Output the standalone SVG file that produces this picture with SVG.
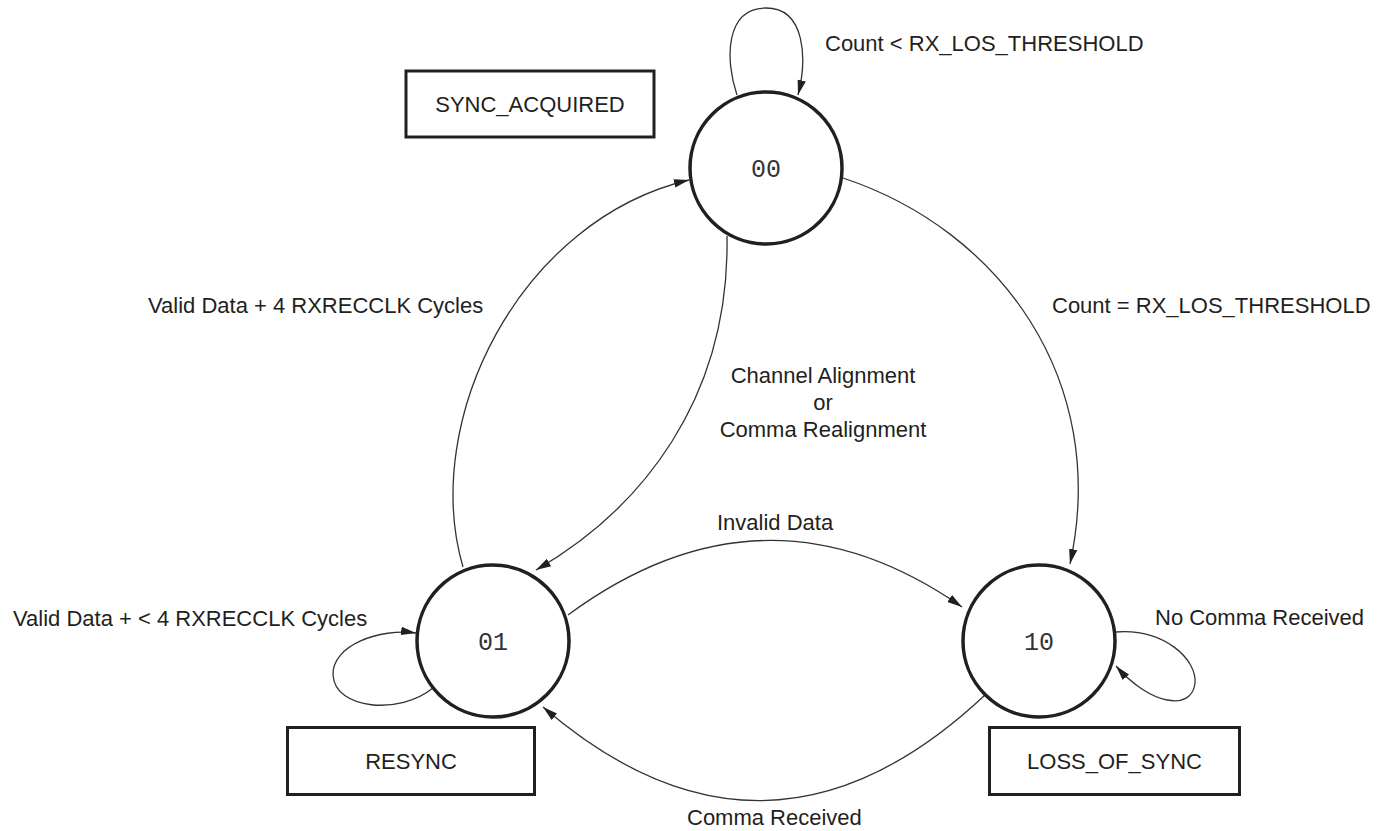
<svg xmlns="http://www.w3.org/2000/svg" width="1377" height="831" viewBox="0 0 1377 831">
<style>
.lbl{font-family:"Liberation Sans",Arial,sans-serif;font-size:22px;fill:#231f20}
.st{font-family:"Liberation Mono","Courier New",monospace;font-size:25px;fill:#333}
.state{fill:#fff;stroke:#231f20;stroke-width:3.5}
.box{fill:#fff;stroke:#231f20;stroke-width:3}
.edge{fill:none;stroke:#333;stroke-width:1.3;marker-end:url(#arr)}
</style>
<defs>
<marker id="arr" markerUnits="userSpaceOnUse" markerWidth="16" markerHeight="10" refX="15" refY="5" orient="auto">
<path d="M0,0.8 L15,5 L0,9.2 Z" fill="#231f20"/>
</marker>
</defs>
<rect width="1377" height="831" fill="#fff"/>
<g id="connectors">
<path class="edge" d="M737 95 C725 60,725 8,766 8 C806 8,807 60,798 95"/>
<path class="edge" d="M843 178 C1000 230,1110 380,1070 564"/>
<path class="edge" d="M463 567 C420 420,520 220,689 180"/>
<path class="edge" d="M727 236 C730 400,640 510,536 570"/>
<path class="edge" d="M568 615 Q765 470,962 607"/>
<path class="edge" d="M985 695 Q767 900,543 707"/>
<path class="edge" d="M433 688 C400 715,335 710,333 675 C332 645,380 628,416 633"/>
<path class="edge" d="M1115 632 C1165 628,1197 660,1195 683 C1192 712,1150 705,1116 666"/>
</g>
<g id="state00">
<circle class="state" cx="766" cy="168" r="76"/>
<text class="st" x="766" y="177" text-anchor="middle">00</text>
</g>
<g id="state01">
<circle class="state" cx="493" cy="641" r="76"/>
<text class="st" x="493" y="650" text-anchor="middle">01</text>
</g>
<g id="state10">
<circle class="state" cx="1039" cy="641" r="76"/>
<text class="st" x="1039" y="650" text-anchor="middle">10</text>
</g>
<g id="box-sync-acquired">
<rect class="box" x="406" y="71" width="248" height="66"/>
<text class="lbl" x="530" y="112" text-anchor="middle">SYNC_ACQUIRED</text>
</g>
<g id="box-resync">
<rect class="box" x="287.5" y="727.5" width="247" height="67"/>
<text class="lbl" x="411" y="769" text-anchor="middle">RESYNC</text>
</g>
<g id="box-loss-of-sync">
<rect class="box" x="989.5" y="727.5" width="250" height="67"/>
<text class="lbl" x="1114.5" y="769" text-anchor="middle">LOSS_OF_SYNC</text>
</g>
<g id="labels">
<text class="lbl" x="825" y="51">Count &lt; RX_LOS_THRESHOLD</text>
<text class="lbl" x="1052" y="313">Count = RX_LOS_THRESHOLD</text>
<text class="lbl" x="148" y="313">Valid Data + 4 RXRECCLK Cycles</text>
<text class="lbl" x="823" y="383" text-anchor="middle">Channel Alignment</text>
<text class="lbl" x="823" y="410" text-anchor="middle">or</text>
<text class="lbl" x="823" y="437" text-anchor="middle">Comma Realignment</text>
<text class="lbl" x="717" y="530">Invalid Data</text>
<text class="lbl" x="13" y="626">Valid Data + &lt; 4 RXRECCLK Cycles</text>
<text class="lbl" x="1155" y="625">No Comma Received</text>
<text class="lbl" x="687" y="825">Comma Received</text>
</g>
</svg>
